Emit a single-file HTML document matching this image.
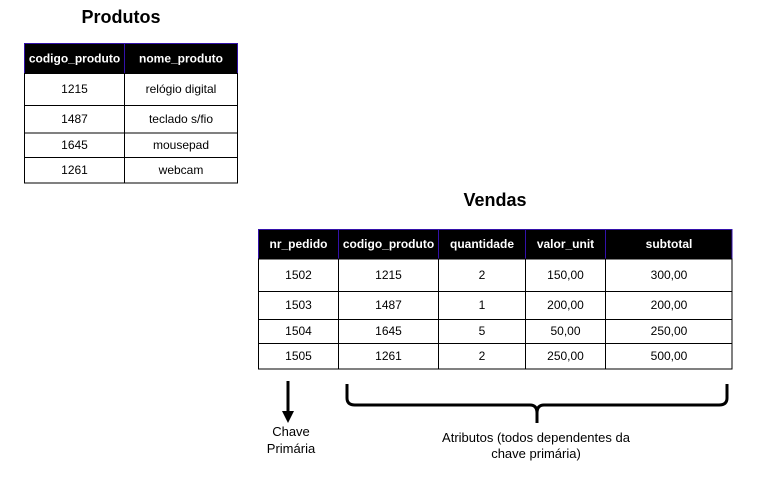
<!DOCTYPE html>
<html><head><meta charset="utf-8"><style>
html,body{margin:0;padding:0;background:#fff;width:757px;height:497px;overflow:hidden}
svg text{font-family:"Liberation Sans",Arial,sans-serif}
</style></head><body>
<svg width="757" height="497" viewBox="0 0 757 497" xmlns="http://www.w3.org/2000/svg">
<rect width="757" height="497" fill="#fff"/>
<text x="121" y="23" font-size="18" font-weight="bold" text-anchor="middle">Produtos</text>
<rect x="24.5" y="43.5" width="213" height="30" fill="#000" stroke="#3311aa"/>
<line x1="124.5" y1="43.5" x2="124.5" y2="73.5" stroke="#3311aa"/>
<g fill="#fff" font-size="12" font-weight="bold" text-anchor="middle">
<text x="74.5" y="62.5">codigo_produto</text><text x="181" y="62.5">nome_produto</text></g>
<g fill="none" stroke="#000">
<rect x="24.5" y="73.5" width="213" height="109.5"/>
<line x1="124.5" y1="73.5" x2="124.5" y2="183"/>
<line x1="24.5" y1="105.5" x2="237.5" y2="105.5"/>
<line x1="24.5" y1="133" x2="237.5" y2="133"/>
<line x1="24.5" y1="157.5" x2="237.5" y2="157.5"/>
</g>
<g font-size="12" text-anchor="middle" fill="#000">
<text x="74.5" y="93">1215</text><text x="181" y="93">relógio digital</text>
<text x="74.5" y="123">1487</text><text x="181" y="123">teclado s/fio</text>
<text x="74.5" y="149">1645</text><text x="181" y="149">mousepad</text>
<text x="74.5" y="174">1261</text><text x="181" y="174">webcam</text>
</g>

<text x="495" y="206" font-size="18" font-weight="bold" text-anchor="middle">Vendas</text>
<rect x="258.5" y="229.5" width="473.5" height="29.5" fill="#000" stroke="#3311aa"/>
<g stroke="#3311aa"><line x1="338.5" y1="229.5" x2="338.5" y2="259"/><line x1="438.5" y1="229.5" x2="438.5" y2="259"/><line x1="525.5" y1="229.5" x2="525.5" y2="259"/><line x1="605.5" y1="229.5" x2="605.5" y2="259"/></g>
<g fill="#fff" font-size="12" font-weight="bold" text-anchor="middle">
<text x="298.5" y="248">nr_pedido</text><text x="388.5" y="248">codigo_produto</text><text x="482" y="248">quantidade</text><text x="565.5" y="248">valor_unit</text><text x="669" y="248">subtotal</text></g>
<g fill="none" stroke="#000">
<rect x="258.5" y="259" width="473.5" height="110"/>
<line x1="338.5" y1="259" x2="338.5" y2="369"/><line x1="438.5" y1="259" x2="438.5" y2="369"/><line x1="525.5" y1="259" x2="525.5" y2="369"/><line x1="605.5" y1="259" x2="605.5" y2="369"/>
<line x1="258.5" y1="291.5" x2="732" y2="291.5"/><line x1="258.5" y1="319.5" x2="732" y2="319.5"/><line x1="258.5" y1="343.5" x2="732" y2="343.5"/>
</g>
<g font-size="12" text-anchor="middle" fill="#000">
<text x="298.5" y="279">1502</text><text x="388.5" y="279">1215</text><text x="482" y="279">2</text><text x="565.5" y="279">150,00</text><text x="669" y="279">300,00</text>
<text x="298.5" y="309">1503</text><text x="388.5" y="309">1487</text><text x="482" y="309">1</text><text x="565.5" y="309">200,00</text><text x="669" y="309">200,00</text>
<text x="298.5" y="335">1504</text><text x="388.5" y="335">1645</text><text x="482" y="335">5</text><text x="565.5" y="335">50,00</text><text x="669" y="335">250,00</text>
<text x="298.5" y="360">1505</text><text x="388.5" y="360">1261</text><text x="482" y="360">2</text><text x="565.5" y="360">250,00</text><text x="669" y="360">500,00</text>
</g>

<line x1="288" y1="381" x2="288" y2="414" stroke="#000" stroke-width="3"/>
<polygon points="282,411 294,411 288,423" fill="#000"/>
<g font-size="13" text-anchor="middle" fill="#000">
<text x="291" y="436">Chave</text><text x="291" y="453">Primária</text>
<text x="536" y="442">Atributos (todos dependentes da</text><text x="536" y="458">chave primária)</text>
</g>
<path d="M347,384 V398 Q347,405 355,405 H530 Q537,405 537,413 V423 M537,413 Q537,405 544,405 H719 Q727,405 727,398 V384" fill="none" stroke="#000" stroke-width="3"/>
</svg>
</body></html>
